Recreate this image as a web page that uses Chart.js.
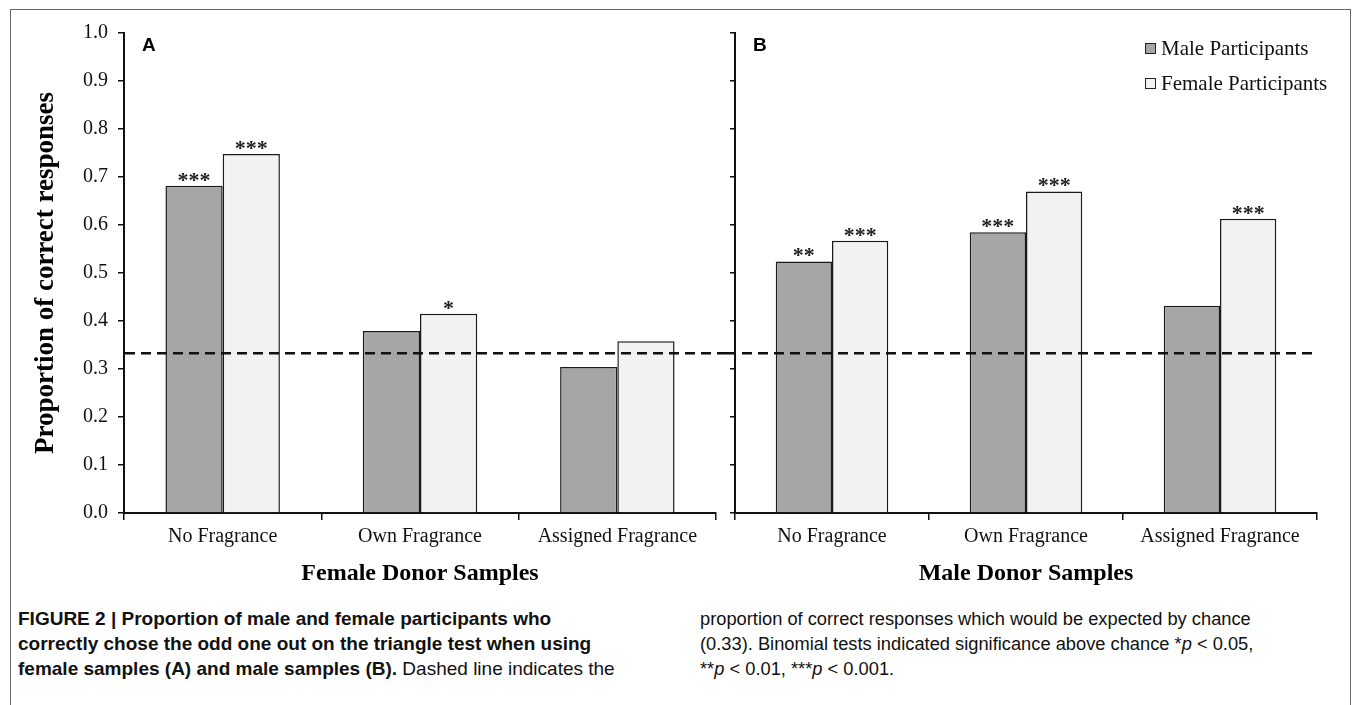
<!DOCTYPE html>
<html>
<head>
<meta charset="utf-8">
<script src="https://cdn.jsdelivr.net/npm/chart.js@4.4.0/dist/chart.umd.min.js"></script>
<style>
  html, body { margin:0; padding:0; background:#fff; }
  body { width:1355px; height:705px; position:relative; overflow:hidden; }
  #frame { position:absolute; left:10px; top:9px; width:1341px; height:710px; border:1.5px solid #666; box-sizing:border-box; }
  .cv { position:absolute; top:0; }
  #legend { position:absolute; left:1145px; top:35px; font:21px "Liberation Serif", "Times New Roman", serif; color:#111; }
  #legend div { height:35px; line-height:26px; white-space:nowrap; }
  #legend span.box { display:inline-block; width:9px; height:9px; border:1.5px solid #222; margin-right:5px; vertical-align:1px; }
  .cap { position:absolute; top:606px; font:19px "Liberation Sans Narrow", "Liberation Sans", Arial, sans-serif; color:#111; line-height:25px; white-space:pre; }
  .cap b { font-weight:bold; }
</style>
</head>
<body>
<div id="frame"></div>
<canvas id="panelA" class="cv" style="left:0px"></canvas>
<canvas id="panelB" class="cv" style="left:726px"></canvas>
<div id="legend"></div>
<div class="cap" style="left:18px"><b>FIGURE 2 | Proportion of male and female participants who
correctly chose the odd one out on the triangle test when using
female samples (A) and male samples (B).</b> Dashed line indicates the</div>
<div class="cap" style="left:700px; font-size:18.3px">proportion of correct responses which would be expected by chance
(0.33). Binomial tests indicated significance above chance *<i>p</i> &lt; 0.05,
**<i>p</i> &lt; 0.01, ***<i>p</i> &lt; 0.001.</div>
<script>
// categorias y valores
const CATEGORIES = ['No Fragrance', 'Own Fragrance', 'Assigned Fragrance'];
const SERIES = ['Male Participants', 'Female Participants'];

const MALE_A   = [0.682, 0.379, 0.304];
const FEMALE_A = [0.748, 0.415, 0.358];
const MALE_B   = [0.524, 0.585, 0.432];
const FEMALE_B = [0.567, 0.670, 0.613];

// asteriscos de significancia sobre cada barra
const MALE_STARS_A   = ['***', '', ''];
const FEMALE_STARS_A = ['***', '*', ''];
const MALE_STARS_B   = ['**', '***', ''];
const FEMALE_STARS_B = ['***', '***', '***'];

const Y_TICKS = ['0.0','0.1','0.2','0.3','0.4','0.5','0.6','0.7','0.8','0.9','1.0'];
const CHANCE = 0.333;

const COLORS = { male:'#a6a6a6', female:'#f2f2f2', edge:'#1a1a1a' };
const SERIF = '"Liberation Serif", "Times New Roman", serif';

// leyenda en html
const legend = document.getElementById('legend');
[COLORS.male, COLORS.female].forEach((c, i) => {
  const row = document.createElement('div');
  row.innerHTML = `<span class="box" style="background:${c}"></span>${SERIES[i]}`;
  legend.appendChild(row);
});

const extras = {
  id: 'extras',
  afterDatasetsDraw(chart, args, opts) {
    const {ctx, chartArea, scales} = chart;
    ctx.save();
    // linea de azar
    const y = scales.y.getPixelForValue(CHANCE);
    ctx.strokeStyle = '#111';
    ctx.lineWidth = 2.5;
    ctx.setLineDash([10, 6]);
    ctx.beginPath();
    ctx.moveTo(opts.lineFrom(chartArea), y);
    ctx.lineTo(opts.lineTo(chartArea, chart), y);
    ctx.stroke();
    ctx.setLineDash([]);
    // asteriscos
    ctx.fillStyle = '#222';
    ctx.font = 'bold 22px ' + SERIF;
    ctx.textAlign = 'center';
    ctx.textBaseline = 'alphabetic';
    opts.stars.forEach((arr, di) => {
      chart.getDatasetMeta(di).data.forEach((bar, i) => {
        if (arr[i]) ctx.fillText(arr[i], bar.x, bar.y + 1);
      });
    });
    // letra del panel
    ctx.fillStyle = '#000';
    ctx.font = 'bold 19px "Liberation Sans", Arial, sans-serif';
    ctx.textAlign = 'left';
    ctx.textBaseline = 'middle';
    ctx.fillText(opts.letter, chartArea.left + 18, 46);
    ctx.restore();
  }
};

function makePanel(id, w, male, female, stars, letter, title, showYLabels, yWidth, padRight, lineFrom, lineTo) {
  const cv = document.getElementById(id);
  cv.width = w; cv.height = 600;
  cv.style.width = w + 'px'; cv.style.height = '600px';
  return new Chart(cv, {
    type: 'bar',
    data: {
      labels: CATEGORIES,
      datasets: [
        { label: SERIES[0], data: male, backgroundColor: COLORS.male, borderColor: COLORS.edge, borderWidth: 1.5, categoryPercentage: 0.58, barPercentage: 1.0 },
        { label: SERIES[1], data: female, backgroundColor: COLORS.female, borderColor: COLORS.edge, borderWidth: 1.5, categoryPercentage: 0.58, barPercentage: 1.0 }
      ]
    },
    options: {
      responsive: false, animation: false, devicePixelRatio: 1,
      layout: { padding: { top: 33, right: padRight, left: 0, bottom: 0 } },
      plugins: {
        legend: { display: false }, tooltip: { enabled: false },
        extras: { stars, letter, lineFrom, lineTo }
      },
      scales: {
        x: {
          afterFit: s => { s.height = 87; },
          grid: { display: true, drawOnChartArea: false, drawTicks: true, tickLength: 7, color: '#111', lineWidth: 1.5 },
          border: { display: true, color: '#111', width: 2 },
          ticks: { color: '#111', font: { family: SERIF, size: 20 }, padding: 5 },
          title: { display: true, text: title, color: '#000', font: { family: SERIF, size: 24, weight: 'bold' }, padding: { top: 0, bottom: 12 } }
        },
        y: {
          min: 0, max: 1,
          afterFit: s => { s.width = yWidth; },
          grid: { display: true, drawOnChartArea: false, drawTicks: true, tickLength: showYLabels ? 6 : 5, color: '#111', lineWidth: 1.5 },
          border: { display: true, color: '#111', width: 2 },
          ticks: { display: showYLabels, stepSize: 0.1, color: '#111', font: { family: SERIF, size: 20 }, padding: 10,
                   callback: (v, i) => Y_TICKS[i] },
          title: { display: showYLabels, text: 'Proportion of correct responses', color: '#000',
                   font: { family: SERIF, size: 27, weight: 'bold' }, padding: { top: 30, bottom: 0 } }
        }
      }
    },
    plugins: [extras]
  });
}

makePanel('panelA', 726, MALE_A, FEMALE_A, [MALE_STARS_A, FEMALE_STARS_A], 'A', 'Female Donor Samples',
  true, 124, 10, ca => ca.left + 1, (ca, ch) => ch.width);
makePanel('panelB', 629, MALE_B, FEMALE_B, [MALE_STARS_B, FEMALE_STARS_B], 'B', 'Male Donor Samples',
  false, 9, 38, ca => 0, (ca, ch) => ca.right - 2);
</script>
</body>
</html>
